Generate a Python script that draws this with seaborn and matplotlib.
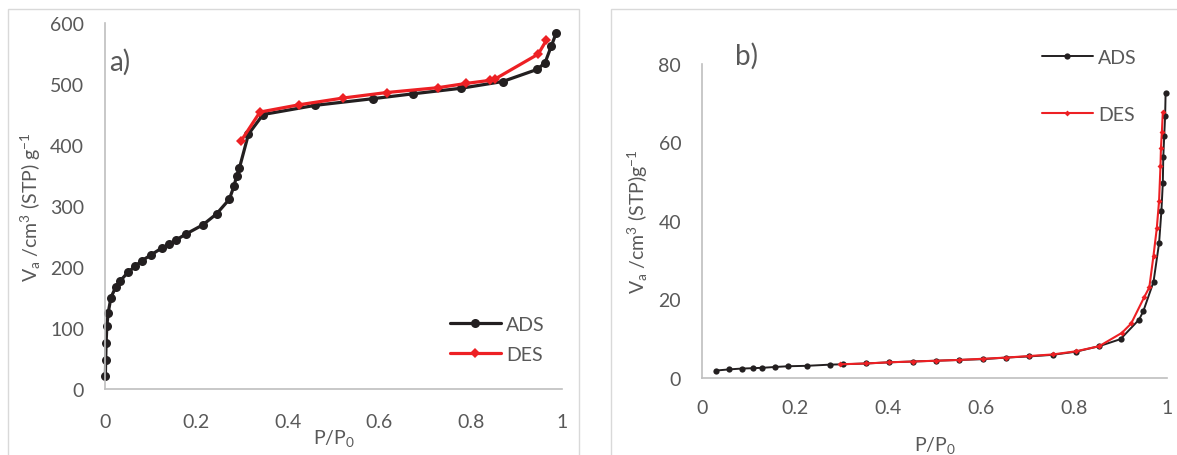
import matplotlib
matplotlib.use("Agg")
import matplotlib.pyplot as plt
import seaborn as sns
import pandas as pd
from matplotlib.patches import Rectangle

# --- Data ---
# a) adsorption / desorption
p_ads_a = [0.0008, 0.0015, 0.0025, 0.004, 0.007, 0.013, 0.024, 0.033, 0.051, 0.066,
           0.080, 0.101, 0.124, 0.140, 0.155, 0.177, 0.214, 0.244, 0.272, 0.282,
           0.288, 0.294, 0.314, 0.346, 0.46, 0.587, 0.675, 0.779, 0.870, 0.946,
           0.963, 0.977, 0.987]
v_ads_a = [21, 48, 76, 103, 125, 150, 168, 177, 192, 201,
           210, 220, 231, 237, 244, 254, 269, 287, 311, 332,
           349, 362, 418, 450, 465, 476, 484, 493, 504, 524,
           535, 563, 583]
p_des_a = [0.966, 0.948, 0.853, 0.842, 0.791, 0.729, 0.616, 0.521, 0.425, 0.339, 0.298]
v_des_a = [572, 549, 508, 506, 501, 494, 486, 477, 466, 454, 407]

# b) adsorption / desorption
p_ads_b = [0.030, 0.059, 0.085, 0.109, 0.130, 0.156, 0.186, 0.225, 0.275, 0.304,
           0.353, 0.403, 0.453, 0.503, 0.553, 0.604, 0.654, 0.704, 0.754, 0.804,
           0.854, 0.900, 0.940, 0.949, 0.971, 0.983, 0.988, 0.991, 0.992, 0.994,
           0.996, 0.997]
v_ads_b = [1.9, 2.2, 2.4, 2.5, 2.6, 2.8, 3.0, 3.1, 3.4, 3.5,
           3.7, 4.0, 4.2, 4.4, 4.6, 4.8, 5.2, 5.5, 5.9, 6.7,
           8.1, 9.9, 14.9, 17.0, 24.5, 34.4, 42.6, 49.7, 56.2, 61.7,
           66.8, 72.6]
p_des_b = [0.991, 0.989, 0.987, 0.986, 0.983, 0.978, 0.971, 0.962, 0.951, 0.923,
           0.903, 0.854, 0.804, 0.754, 0.704, 0.654, 0.604, 0.553, 0.503, 0.453,
           0.403, 0.353, 0.297]
v_des_b = [67.7, 62.7, 58.6, 54.1, 45.2, 38.1, 31.2, 23.1, 20.6, 13.9,
           11.5, 8.1, 6.8, 6.0, 5.6, 5.2, 4.9, 4.6, 4.4, 4.2,
           4.0, 3.7, 3.5]

x_ticks = [0, 0.2, 0.4, 0.6, 0.8, 1]
x_tick_labels = ["0", "0.2", "0.4", "0.6", "0.8", "1"]

BLACK = "#231f20"
RED = "#ed2024"
GRAY_TXT = "#595959"
GRAY_AX = "#bfbfbf"

sns.set_style("white")
plt.rcParams["font.family"] = ["Lato", "DejaVu Sans"]
plt.rcParams["mathtext.fontset"] = "custom"
plt.rcParams["mathtext.rm"] = "Lato"
plt.rcParams["mathtext.it"] = "Lato"

W, H = 1177, 456
FS = 14
fig = plt.figure(figsize=(W / 100, H / 100), dpi=100)


def px_axes(left, top, right, bottom):
    return fig.add_axes([left / W, 1 - bottom / H, (right - left) / W, (bottom - top) / H])


# outer chart borders (Excel style)
fig.patches.append(Rectangle((8 / W, -0.1), 571 / W, 1.1 - 10 / H, transform=fig.transFigure,
                             fill=False, ec="#d9d9d9", lw=1))
fig.patches.append(Rectangle((611 / W, -0.1), 0.5, 1.1 - 10 / H, transform=fig.transFigure,
                             fill=False, ec="#d9d9d9", lw=1))

ax_a = px_axes(105, 24, 562, 390)
ax_b = px_axes(702, 65, 1167, 379)

df_ads_a = pd.DataFrame({"p": p_ads_a, "v": v_ads_a})
df_des_a = pd.DataFrame({"p": p_des_a, "v": v_des_a})
df_ads_b = pd.DataFrame({"p": p_ads_b, "v": v_ads_b})
df_des_b = pd.DataFrame({"p": p_des_b, "v": v_des_b})

sns.lineplot(data=df_ads_a, x="p", y="v", ax=ax_a, sort=False, estimator=None,
             color=BLACK, lw=2.3, marker="o", ms=6.5, mec=BLACK, mew=0, label="ADS", clip_on=False)
sns.lineplot(data=df_des_a, x="p", y="v", ax=ax_a, sort=False, estimator=None,
             color=RED, lw=2.3, marker="D", ms=5, mec=RED, mew=0, label="DES", clip_on=False)

sns.lineplot(data=df_ads_b, x="p", y="v", ax=ax_b, sort=False, estimator=None,
             color=BLACK, lw=1.4, marker="o", ms=4.5, mec=BLACK, mew=0, label="ADS", clip_on=False)
sns.lineplot(data=df_des_b, x="p", y="v", ax=ax_b, sort=False, estimator=None,
             color=RED, lw=1.5, marker="D", ms=3, mec=RED, mew=0, label="DES", clip_on=False)

ylabel_a = r"V$_\mathregular{a}$ /cm$^\mathregular{3}$ (STP) g$^\mathregular{-1}$"
ylabel_b = r"V$_\mathregular{a}$ /cm$^\mathregular{3}$ (STP)g$^\mathregular{-1}$"
xlabel = r"P/P$_\mathregular{0}$"

for ax, ymax, ystep, ylab, pad in [(ax_a, 600, 100, ylabel_a, 17), (ax_b, 80, 20, ylabel_b, 15)]:
    ax.set_xlim(0, 1)
    ax.set_ylim(0, ymax)
    ax.set_xticks(x_ticks)
    ax.set_xticklabels(x_tick_labels)
    ax.set_yticks(range(0, ymax + 1, ystep))
    ax.tick_params(axis="x", length=0, labelsize=FS, labelcolor=GRAY_TXT, pad=pad)
    ax.tick_params(axis="y", length=0, labelsize=FS, labelcolor=GRAY_TXT, pad=15)
    for s in ["top", "right"]:
        ax.spines[s].set_visible(False)
    for s in ["left", "bottom"]:
        ax.spines[s].set_color(GRAY_AX)
        ax.spines[s].set_linewidth(1.2)
    ax.set_ylabel(ylab, fontsize=FS, color=GRAY_TXT)
    ax.set_facecolor("none")

ax_a.set_xlabel(xlabel, fontsize=FS, color=GRAY_TXT, labelpad=-2)
ax_b.set_xlabel(xlabel, fontsize=FS, color=GRAY_TXT, labelpad=13)
ax_a.yaxis.set_label_coords(-62 / 457, 0.5)
ax_b.yaxis.set_label_coords(-52 / 465, 0.5)

ax_a.legend(loc="upper left", bbox_to_anchor=(450 / W, 1 - 317 / H), bbox_transform=fig.transFigure,
            frameon=False, fontsize=FS, labelcolor=GRAY_TXT, handlelength=2.6, handletextpad=0.3,
            labelspacing=0.65, borderpad=0, borderaxespad=0)
ax_b.legend(loc="upper left", bbox_to_anchor=(1042 / W, 1 - 50 / H), bbox_transform=fig.transFigure,
            frameon=False, fontsize=FS, labelcolor=GRAY_TXT, handlelength=2.6, handletextpad=0.3,
            labelspacing=2.05, borderpad=0, borderaxespad=0)

fig.text(109 / W, 1 - 62 / H, "a)", fontsize=20, color=GRAY_TXT, va="center", ha="left")
fig.text(735 / W, 1 - 56 / H, "b)", fontsize=20, color=GRAY_TXT, va="center", ha="left")

fig.savefig("out.png", dpi=100, facecolor="white")
